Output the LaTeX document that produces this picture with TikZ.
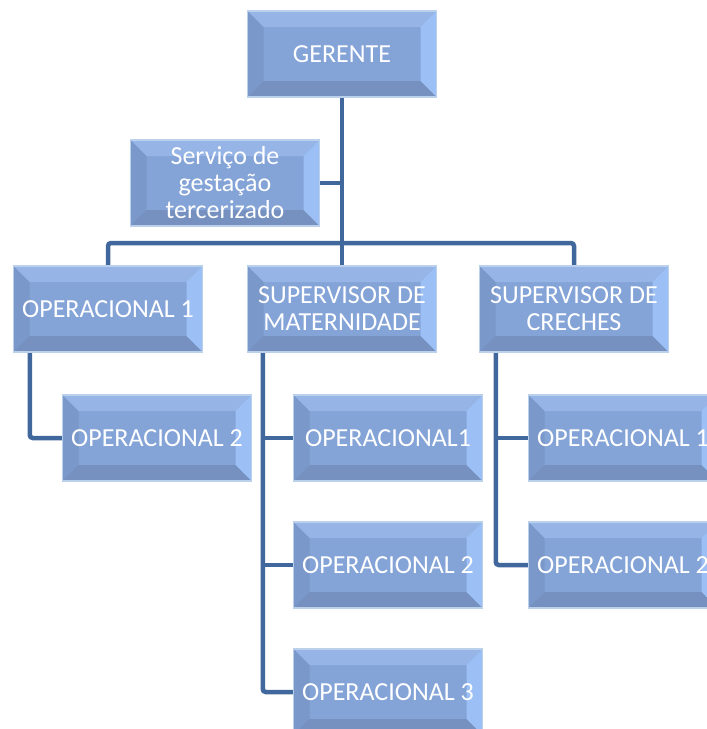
\documentclass[tikz,border=0pt]{standalone}
\usepackage{fontspec}
\setmainfont{Carlito}
\definecolor{facec}{HTML}{84A4D8}
\definecolor{topc}{HTML}{96B5E6}
\definecolor{leftc}{HTML}{7A98CA}
\definecolor{rightc}{HTML}{9CC0F5}
\definecolor{botc}{HTML}{7691C0}
\definecolor{edgec}{HTML}{BBD0EA}
\definecolor{linec}{HTML}{41689D}
\pgfdeclarelayer{bg}
\pgfsetlayers{bg,main}
\tikzset{
  bbox/.style={draw=edgec, line width=1.5pt, fill=facec, minimum width=189pt, minimum height=86pt,
    inner sep=0pt, text=white, align=center, font=\fontsize{26}{27}\selectfont,
    path picture={
      \fill[topc] (path picture bounding box.north west) -- (path picture bounding box.north east)
        -- ([shift={(-16pt,-16pt)}]path picture bounding box.north east)
        -- ([shift={(16pt,-16pt)}]path picture bounding box.north west) -- cycle;
      \fill[leftc] (path picture bounding box.north west) -- (path picture bounding box.south west)
        -- ([shift={(16pt,16pt)}]path picture bounding box.south west)
        -- ([shift={(16pt,-16pt)}]path picture bounding box.north west) -- cycle;
      \fill[rightc] (path picture bounding box.north east) -- (path picture bounding box.south east)
        -- ([shift={(-16pt,16pt)}]path picture bounding box.south east)
        -- ([shift={(-16pt,-16pt)}]path picture bounding box.north east) -- cycle;
      \fill[botc] (path picture bounding box.south west) -- (path picture bounding box.south east)
        -- ([shift={(-16pt,16pt)}]path picture bounding box.south east)
        -- ([shift={(16pt,16pt)}]path picture bounding box.south west) -- cycle;
    }},
  conn/.style={draw=linec, line width=4.5pt, rounded corners=3pt}
}
\begin{document}
\begin{tikzpicture}[x=1pt,y=-1pt]
\useasboundingbox (0,0) rectangle (707,729);
\clip (0,0) rectangle (707,729);
% nodes
\node[bbox] (ger) at (342,54) {GERENTE};
\node[bbox] (serv) at (225,183) {Serviço de\\gestação\\tercerizado};
\node[bbox] (op1) at (108,309) {OPERACIONAL 1};
\node[bbox] (mat) at (342,309) {SUPERVISOR DE\\MATERNIDADE};
\node[bbox] (cre) at (574,309) {SUPERVISOR DE\\CRECHES};
\node[bbox] (op1a) at (157,438) {OPERACIONAL 2};
\node[bbox] (mat1) at (388,438) {OPERACIONAL1};
\node[bbox] (mat2) at (388,565) {OPERACIONAL 2};
\node[bbox] (mat3) at (388,692) {OPERACIONAL 3};
\node[bbox] (cre1) at (623,438) {OPERACIONAL 1};
\node[bbox] (cre2) at (623,565) {OPERACIONAL 2};
\coordinate (bar) at (342,243);
% connectors (behind boxes)
\begin{pgfonlayer}{bg}
\draw[conn] (ger.south) -- (mat.north);
\draw[conn] (serv.east) -- (serv.east -| ger.south);
\draw[conn] (op1.north) |- (bar) -| (cre.north);
\draw[conn] ([xshift=17pt]op1.south west) |- (op1a.west);
\draw[conn] ([xshift=16pt]mat.south west) |- (mat3.west);
\draw[conn] ([xshift=16pt]mat.south west |- mat1.west) -- (mat1.west);
\draw[conn] ([xshift=16pt]mat.south west |- mat2.west) -- (mat2.west);
\draw[conn] ([xshift=17pt]cre.south west) |- (cre2.west);
\draw[conn] ([xshift=17pt]cre.south west |- cre1.west) -- (cre1.west);
\end{pgfonlayer}
\end{tikzpicture}
\end{document}
